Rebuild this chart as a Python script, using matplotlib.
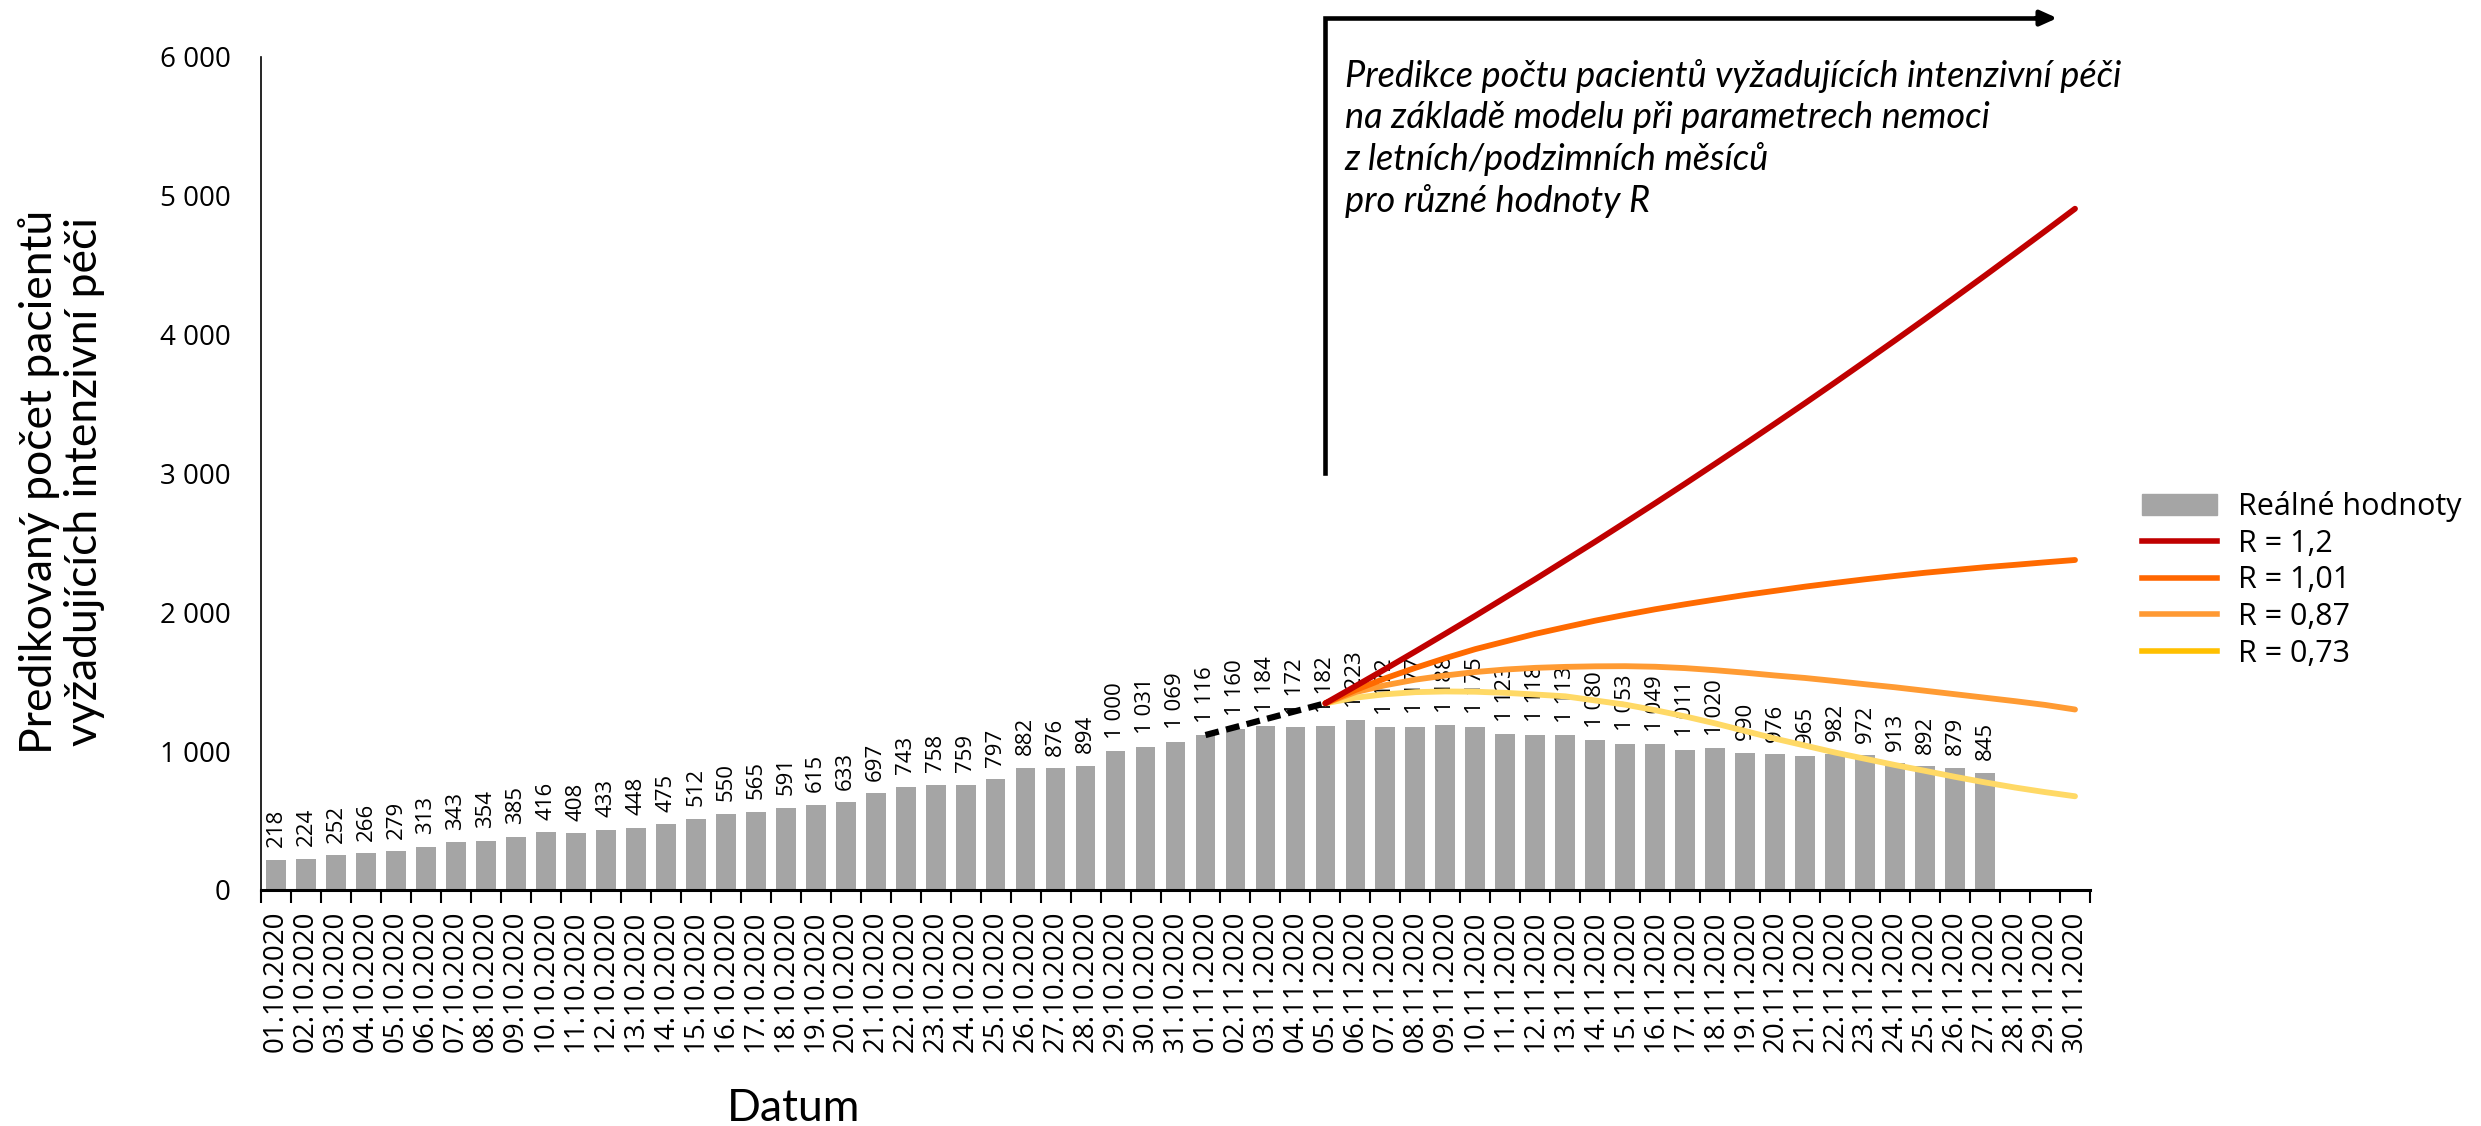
import matplotlib
matplotlib.use("Agg")
import matplotlib.pyplot as plt
from matplotlib.lines import Line2D
from matplotlib.patches import Patch
from matplotlib.ticker import FuncFormatter
import numpy as np
import pandas as pd

# kategorie na ose x
datumy = list(pd.date_range("2020-10-01", "2020-11-30").strftime("%d.%m.%Y"))

# realne hodnoty (01.10. - 27.11.)
realne = [218, 224, 252, 266, 279, 313, 343, 354, 385, 416,
          408, 433, 448, 475, 512, 550, 565, 591, 615, 633,
          697, 743, 758, 759, 797, 882, 876, 894, 1000, 1031,
          1069, 1116, 1160, 1184, 1172, 1182, 1223, 1172, 1177, 1188,
          1175, 1123, 1118, 1113, 1080, 1053, 1049, 1011, 1020, 990,
          976, 965, 982, 972, 913, 892, 879, 845]

# predikce od 05.11. do 30.11.
start_modelu = "05.11.2020"
r_120 = [1345, 1468, 1592, 1718, 1846, 1975, 2107, 2239, 2374, 2509,
         2647, 2786, 2927, 3070, 3214, 3360, 3507, 3656, 3807, 3959,
         4113, 4269, 4426, 4585, 4745, 4907]
r_101 = [1345, 1440, 1525, 1600, 1670, 1735, 1790, 1845, 1893, 1940,
         1982, 2022, 2058, 2092, 2125, 2155, 2185, 2212, 2238, 2262,
         2285, 2305, 2325, 2342, 2360, 2377]
r_087 = [1345, 1425, 1475, 1515, 1545, 1570, 1588, 1600, 1607, 1611,
         1612, 1608, 1598, 1583, 1565, 1545, 1527, 1505, 1482, 1460,
         1435, 1410, 1385, 1360, 1333, 1300]
r_073 = [1345, 1385, 1410, 1425, 1430, 1428, 1420, 1408, 1395, 1365,
         1335, 1295, 1250, 1200, 1145, 1090, 1040, 990, 945, 900,
         858, 815, 775, 738, 705, 675]

# carkovany prechod 01.11. -> 05.11.
carka_datumy = ["01.11.2020", "05.11.2020"]
carka_hodnoty = [1116, 1345]

fig = plt.figure(figsize=(24.81, 11.26), dpi=100)
ax = fig.add_axes([0.1052, 0.2096, 0.7372, 0.7398])

x = np.arange(len(datumy))
ax.bar(x[:len(realne)], realne, width=0.66, color="#A5A5A5", zorder=2)

for i, v in enumerate(realne):
    ax.annotate(f"{v:,}".replace(",", " "), (i, v), xytext=(0, 9),
                textcoords="offset points", rotation=90, ha="center",
                va="bottom", fontsize=16, family="Open Sans")

i0 = datumy.index(start_modelu)
xm = x[i0:i0 + len(r_120)]
ax.plot(xm, r_073, color="#FFD966", lw=4.2, zorder=4, solid_capstyle="round")
ax.plot(xm, r_087, color="#FF9B33", lw=4.2, zorder=4, solid_capstyle="round")
ax.plot(xm, r_101, color="#FF6A00", lw=4.2, zorder=4, solid_capstyle="round")
ax.plot(xm, r_120, color="#C00000", lw=4.2, zorder=4, solid_capstyle="round")

xc = [datumy.index(d) for d in carka_datumy]
ax.plot(xc, carka_hodnoty, color="black", lw=4.5, ls=(0, (2.2, 1.2)), zorder=4)

# sipka nad predikci
ax.plot([i0, i0, 58.9], [3000, 6280, 6280], color="black", lw=3.3,
        clip_on=False, solid_joinstyle="miter")
ax.annotate("", xy=(59.5, 6280), xytext=(58.6, 6280),
            arrowprops=dict(arrowstyle="-|>,head_width=0.45,head_length=1.0",
                            color="black", lw=3.3),
            annotation_clip=False)
fig.text(0.542, 0.948,
         "Predikce počtu pacientů vyžadujících intenzivní péči\n"
         "na základě modelu při parametrech nemoci\n"
         "z letních/podzimních měsíců\n"
         "pro různé hodnoty R",
         ha="left", va="top", fontsize=26, style="italic", family="Lato",
         linespacing=1.3)

ax.set_xlim(-0.5, len(datumy) - 0.5)
ax.set_ylim(0, 6000)
ax.set_yticks(range(0, 6001, 1000))
ax.yaxis.set_major_formatter(FuncFormatter(lambda v, p: f"{int(v):,}".replace(",", " ")))
ax.tick_params(axis="y", length=0, pad=22)
ax.set_xticks(x, datumy, rotation=90)
ax.set_xticks(np.arange(-0.5, len(datumy)), minor=True)
ax.tick_params(axis="x", which="major", length=0, pad=15)
ax.tick_params(axis="x", which="minor", length=9, width=1.5, direction="out")
for t in ax.get_xticklabels() + ax.get_yticklabels():
    t.set_family("Open Sans")
    t.set_fontsize(20)

for s in ["top", "right"]:
    ax.spines[s].set_visible(False)
ax.spines["bottom"].set_linewidth(2.2)
ax.spines["left"].set_linewidth(1.2)

ax.set_ylabel("Predikovaný počet pacientů\nvyžadujících intenzivní péči",
              fontsize=32, family="Lato", linespacing=1.1)
ax.yaxis.label.set_va("center")
ax.yaxis.set_label_coords(-0.109, 0.49)
ax.set_xlabel("Datum", fontsize=32, family="Lato")
ax.xaxis.label.set_va("center")
ax.xaxis.set_label_coords(0.291, -0.262)

handles = [Patch(color="#A5A5A5"),
           Line2D([], [], color="#C00000", lw=4),
           Line2D([], [], color="#FF6600", lw=4),
           Line2D([], [], color="#FF9933", lw=4),
           Line2D([], [], color="#FFC000", lw=4)]
labels = ["Reálné hodnoty", "R = 1,2", "R = 1,01", "R = 0,87", "R = 0,73"]
fig.legend(handles, labels, loc="center left", bbox_to_anchor=(0.8634, 0.485),
           frameon=False, prop={"family": "Open Sans", "size": 22},
           handlelength=2.45, handleheight=0.7, handletextpad=0.68,
           labelspacing=0.22, borderpad=0, borderaxespad=0)

fig.savefig("out.png", dpi=100)
